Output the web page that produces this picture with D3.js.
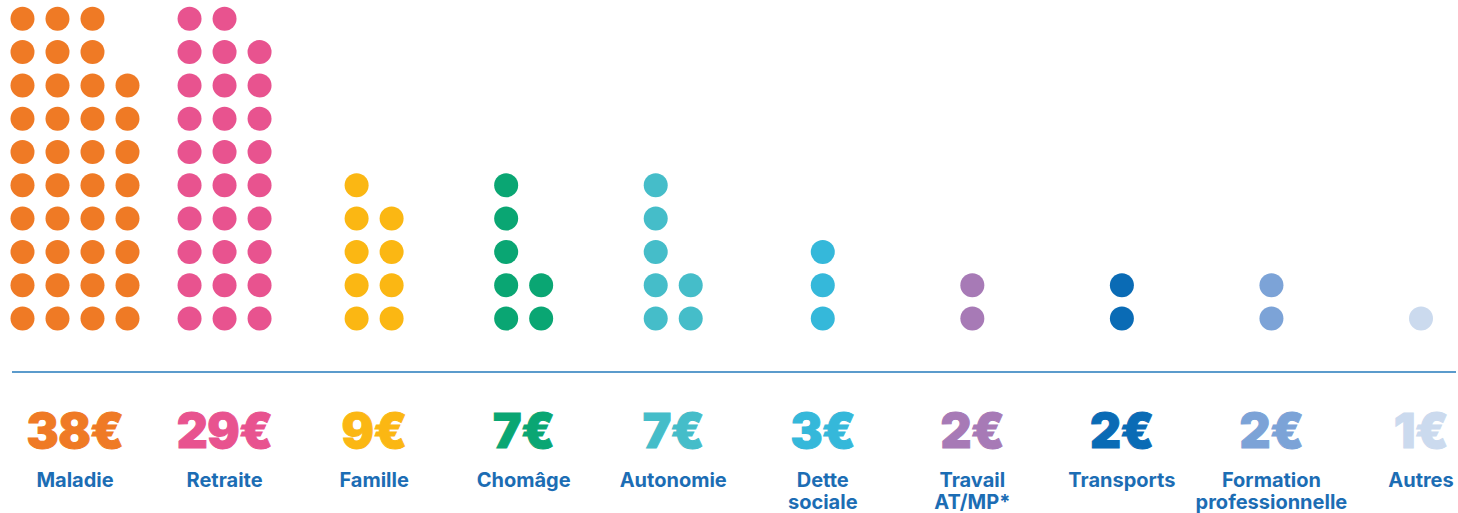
<!DOCTYPE html>
<html><head><meta charset="utf-8">
<script src="https://cdn.jsdelivr.net/npm/d3@7"></script>
<style>html,body{margin:0;padding:0;background:#fff;}svg{display:block;}</style>
</head><body>
<svg id="chart" width="1458" height="513"></svg>
<script>
const categories = ["Maladie","Retraite","Famille","Chomâge","Autonomie","Dette sociale","Travail AT/MP*","Transports","Formation professionnelle","Autres"];
const labelLines = [["Maladie"],["Retraite"],["Famille"],["Chomâge"],["Autonomie"],["Dette","sociale"],["Travail","AT/MP*"],["Transports"],["Formation","professionnelle"],["Autres"]];
const values = [38,29,9,7,7,3,2,2,2,1];
const colors = ["#ef7a25","#e8538f","#fbb713","#0aa673","#45bdc9","#35b8da","#a77ab6","#0a6bb5","#7ca3d7","#cbdaee"];

const svg = d3.select("#chart");
const x = d3.scalePoint().domain(categories).range([75, 1421]);
const rowStep = 33.3, colStep = 35, r = 12, baseY = 318.5;
const y = d3.scaleLinear().domain([0, 9]).range([baseY, baseY - 9*rowStep]);

categories.forEach((c, i) => {
  const v = values[i];
  const rows = v > 10 ? 10 : 5;
  const ncols = Math.ceil(v / rows);
  const dots = d3.range(v).map(k => ({col: Math.floor(k / rows), row: k % rows}));
  svg.append("g").selectAll("circle").data(dots).join("circle")
    .attr("cx", d => x(c) + (d.col - (ncols - 1) / 2) * colStep)
    .attr("cy", d => y(d.row))
    .attr("r", r)
    .attr("fill", colors[i]);
});

svg.append("line").attr("x1", 12).attr("x2", 1456).attr("y1", 372).attr("y2", 372)
  .attr("stroke", "#5b9bcc").attr("stroke-width", 2);

svg.append("g").selectAll("text").data(categories).join("text")
  .attr("x", d => x(d)).attr("y", 448)
  .attr("text-anchor", "middle")
  .attr("font-family", "Inter, 'Noto Sans', sans-serif")
  .attr("font-weight", 900).attr("font-size", 48)
  .attr("letter-spacing", -0.5)
  .attr("stroke", (d, i) => colors[i]).attr("stroke-width", 1)
  .attr("fill", (d, i) => colors[i])
  .text((d, i) => values[i] + "€");

const lab = svg.append("g").selectAll("text").data(categories).join("text")
  .attr("x", d => x(d)).attr("y", 487)
  .attr("text-anchor", "middle")
  .attr("font-family", "Inter, 'Noto Sans', sans-serif")
  .attr("font-weight", 700).attr("font-size", 20)
  .attr("fill", "#1c6db4");
lab.each(function(d, i) {
  d3.select(this).selectAll("tspan").data(labelLines[i]).join("tspan")
    .attr("x", x(d)).attr("dy", (t, j) => j === 0 ? 0 : 22).text(t => t);
});
</script>
</body></html>
